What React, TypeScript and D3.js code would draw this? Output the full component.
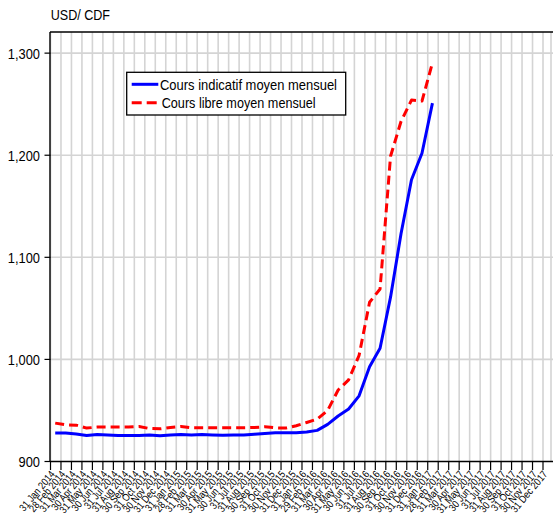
import React from 'react';
import * as d3 from 'd3';

const tickLabels = [
  '31 Jan 2014', '28 Feb 2014', '31 Mar 2014', '30 Apr 2014', '31 May 2014', '30 Jun 2014',
  '31 Jul 2014', '31 Aug 2014', '30 Sep 2014', '31 Oct 2014', '30 Nov 2014', '31 Dec 2014',
  '31 Jan 2015', '28 Feb 2015', '31 Mar 2015', '30 Apr 2015', '31 May 2015', '30 Jun 2015',
  '31 Jul 2015', '31 Aug 2015', '30 Sep 2015', '31 Oct 2015', '30 Nov 2015', '31 Dec 2015',
  '31 Jan 2016', '29 Feb 2016', '31 Mar 2016', '30 Apr 2016', '31 May 2016', '30 Jun 2016',
  '31 Jul 2016', '31 Aug 2016', '30 Sep 2016', '31 Oct 2016', '30 Nov 2016', '31 Dec 2016',
  '31 Jan 2017', '28 Feb 2017', '31 Mar 2017', '30 Apr 2017', '31 May 2017', '30 Jun 2017',
  '31 Jul 2017', '31 Aug 2017', '30 Sep 2017', '31 Oct 2017', '30 Nov 2017', '31 Dec 2017',
];

const coursIndicatif = [
  928, 928, 927, 925.5, 926.5, 926, 925.5, 925.5, 925.5, 926, 925.2, 926,
  926.4, 926, 926.4, 926, 925.8, 926, 926, 926.8, 927.4, 928.1, 928.1, 928.1,
  928.8, 930.5, 936.4, 944.6, 951.4, 964.3, 992.8, 1011, 1061, 1123, 1176, 1202,
  1251,
];

const coursLibre = [
  937.6, 935.9, 935.6, 932.7, 933.7, 933.7, 933.7, 933.7, 934.3, 932.3, 932, 933.3,
  934.3, 933, 933, 933, 933, 933, 933, 933.3, 934, 933, 932.7, 935,
  938.2, 941.5, 950, 970, 980, 1004, 1056, 1069, 1199, 1233, 1254, 1253,
  1290.5,
];

const yTicks = [900, 1000, 1100, 1200, 1300];
const yTickLabels = ['900', '1,000', '1,100', '1,200', '1,300'];
const seriesNames = ['Cours indicatif moyen mensuel', 'Cours libre moyen mensuel'];
const unitLabel = 'USD/ CDF';

const FONT = "'Liberation Sans', Arial, sans-serif";

export default function App() {
  const W = 553;
  const H = 523;
  const left = 50.5;
  const right = 543;
  const top = 32;
  const bottom = 461.5;
  const frameRight = 551;

  const x = d3.scaleLinear().domain([0, tickLabels.length - 1]).range([left, right]);
  const y = d3.scaleLinear().domain([900, 1320.7]).range([bottom, top]);
  const offset = 0.45;

  const line = d3
    .line<number>()
    .x((_, i) => x(i + offset))
    .y((d) => y(d));

  return (
    <svg
      width={W}
      height={H}
      style={{ position: 'absolute', left: 0, top: 0, background: '#fff' }}
      fontFamily={FONT}
    >
      {/* vertical grid */}
      {tickLabels.map((_, j) => (
        <line
          key={'vg' + j}
          x1={x(j)}
          x2={x(j)}
          y1={top}
          y2={bottom}
          stroke="#d4d4d4"
          strokeWidth={1.6}
        />
      ))}
      <line x1={frameRight} x2={frameRight} y1={top} y2={bottom} stroke="#d4d4d4" strokeWidth={1.6} />
      {/* horizontal grid */}
      {yTicks.slice(1).map((v) => (
        <line
          key={'hg' + v}
          x1={left}
          x2={W}
          y1={y(v)}
          y2={y(v)}
          stroke="#d4d4d4"
          strokeWidth={1.6}
        />
      ))}

      {/* frame */}
      <line x1={left - 0.5} x2={W} y1={top} y2={top} stroke="#000" strokeWidth={1.6} />
      <line x1={left - 0.5} x2={left - 0.5} y1={top} y2={bottom} stroke="#000" strokeWidth={1.4} />
      <line x1={left - 0.5} x2={W} y1={bottom} y2={bottom} stroke="#000" strokeWidth={1.6} />

      {/* y ticks */}
      {yTicks.map((v, k) => (
        <g key={'yt' + v}>
          <line x1={left - 6} x2={left} y1={y(v)} y2={y(v)} stroke="#000" strokeWidth={1.2} />
          <text
            transform={`translate(40, ${y(v) + 5.5}) scale(0.83, 1)`}
            textAnchor="end"
            fontSize={15.5}
            fill="#000"
          >
            {yTickLabels[k]}
          </text>
        </g>
      ))}

      {/* x ticks */}
      {tickLabels.map((lab, j) => (
        <g key={'xt' + j}>
          <line x1={x(j)} x2={x(j)} y1={bottom} y2={bottom + 8.5} stroke="#000" strokeWidth={1.2} />
          <text
            transform={`translate(${x(j) + 5}, ${bottom + 13}) rotate(-50) scale(0.85, 1)`}
            textAnchor="end"
            fontSize={10.5}
            fill="#000"
          >
            {lab}
          </text>
        </g>
      ))}

      {/* series */}
      <path d={line(coursIndicatif) || ''} fill="none" stroke="#0000ff" strokeWidth={3} strokeLinejoin="round" />
      <path
        d={line(coursLibre) || ''}
        fill="none"
        stroke="#ff0000"
        strokeWidth={3}
        strokeDasharray="9 5"
        strokeLinejoin="round"
      />

      {/* unit label */}
      <text x={50.7} y={20} fontSize={15.5} textLength={59.3} lengthAdjust="spacingAndGlyphs" fill="#000">
        {unitLabel}
      </text>

      {/* legend */}
      <rect x={126.7} y={72.3} width={219} height={42.7} fill="#fff" stroke="#000" strokeWidth={1.3} />
      <line x1={131.7} x2={158.3} y1={84.3} y2={84.3} stroke="#0000ff" strokeWidth={3} />
      <line x1={131.7} x2={158.3} y1={102.7} y2={102.7} stroke="#ff0000" strokeWidth={3} strokeDasharray="10 5" />
      <text x={160} y={89.8} fontSize={14.5} textLength={177} lengthAdjust="spacingAndGlyphs" fill="#000">
        {seriesNames[0]}
      </text>
      <text x={161.7} y={108.2} fontSize={14.5} textLength={154} lengthAdjust="spacingAndGlyphs" fill="#000">
        {seriesNames[1]}
      </text>
    </svg>
  );
}
